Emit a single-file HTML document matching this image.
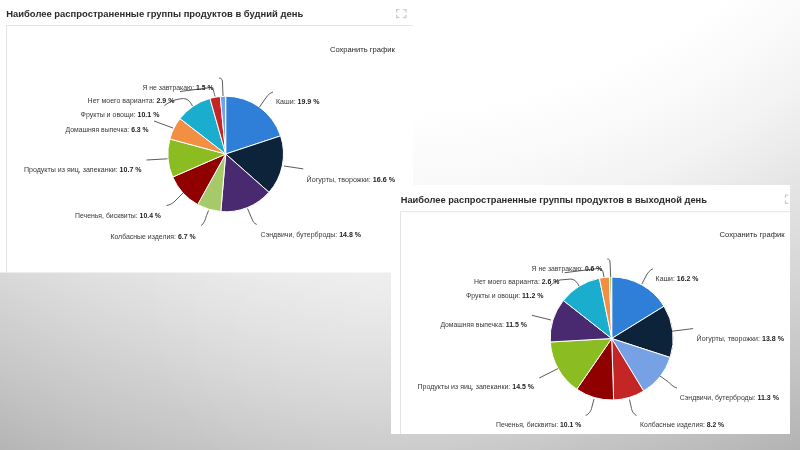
<!DOCTYPE html>
<html><head><meta charset="utf-8"><title>slide</title>
<style>
html,body{margin:0;padding:0;width:800px;height:450px;overflow:hidden;}
body{background:radial-gradient(circle 260px at 395px 275px, rgba(255,255,255,0.22), rgba(255,255,255,0) 100%), radial-gradient(ellipse 950px 1000px at 388px -503px, rgb(255,255,255) 61.4%, rgb(250,250,250) 67.0%, rgb(243,243,243) 72.7%, rgb(233,233,233) 78.4%, rgb(223,223,223) 84.1%, rgb(212,212,212) 89.7%, rgb(200,200,200) 95.4%, rgb(187,187,187) 101.1%, rgb(174,174,174) 106.7%);}
svg{position:absolute;left:0;top:0;font-family:"Liberation Sans",sans-serif;filter:blur(0.35px);}
text{white-space:pre;}
</style></head>
<body>
<svg width="800" height="450" viewBox="0 0 800 450">
<defs><clipPath id="c2"><rect x="391" y="185" width="399" height="249"/></clipPath></defs>
<rect x="0" y="0" width="413" height="272.5" fill="#fff"/>
<path d="M6.5,272.5V25.5H413" fill="none" stroke="#e4e4e4" stroke-width="1"/>
<text x="6.2" y="16.8" font-size="9.4" font-weight="bold" fill="#2a2a2a" textLength="297" lengthAdjust="spacingAndGlyphs">Наиболее распространенные группы продуктов в будний день</text>
<path d="M396.6,12.5V9.7H399.40000000000003 M403.2,9.7H406.0V12.5 M396.6,14.7V17.5H399.40000000000003 M403.2,17.5H406.0V14.7" fill="none" stroke="#cdcdcd" stroke-width="1.3"/>
<text x="329.9" y="51.6" font-size="7.6" fill="#262626" textLength="64.9" lengthAdjust="spacingAndGlyphs">Сохранить график</text>
<path d="M225.70,154.00L225.70,96.20A57.8,57.8 0 0 1 280.58,135.86Z" fill="#2f7ed8" stroke="#fff" stroke-width="1" stroke-linejoin="round"/>
<path d="M225.70,154.00L280.58,135.86A57.8,57.8 0 0 1 268.97,192.32Z" fill="#0d233a" stroke="#fff" stroke-width="1" stroke-linejoin="round"/>
<path d="M225.70,154.00L268.97,192.32A57.8,57.8 0 0 1 220.80,211.59Z" fill="#492970" stroke="#fff" stroke-width="1" stroke-linejoin="round"/>
<path d="M225.70,154.00L220.80,211.59A57.8,57.8 0 0 1 197.67,204.55Z" fill="#a6c96a" stroke="#fff" stroke-width="1" stroke-linejoin="round"/>
<path d="M225.70,154.00L197.67,204.55A57.8,57.8 0 0 1 172.70,177.06Z" fill="#910000" stroke="#fff" stroke-width="1" stroke-linejoin="round"/>
<path d="M225.70,154.00L172.70,177.06A57.8,57.8 0 0 1 169.88,139.00Z" fill="#8bbc21" stroke="#fff" stroke-width="1" stroke-linejoin="round"/>
<path d="M225.70,154.00L169.88,139.00A57.8,57.8 0 0 1 180.00,118.62Z" fill="#f28f43" stroke="#fff" stroke-width="1" stroke-linejoin="round"/>
<path d="M225.70,154.00L180.00,118.62A57.8,57.8 0 0 1 209.91,98.40Z" fill="#1aadce" stroke="#fff" stroke-width="1" stroke-linejoin="round"/>
<path d="M225.70,154.00L209.91,98.40A57.8,57.8 0 0 1 220.26,96.46Z" fill="#c42525" stroke="#fff" stroke-width="1" stroke-linejoin="round"/>
<path d="M225.70,154.00L220.26,96.46A57.8,57.8 0 0 1 225.70,96.20Z" fill="#77a1e5" stroke="#fff" stroke-width="1" stroke-linejoin="round"/>
<g fill="none" stroke="#5c5c5c" stroke-width="1"><path d="M219,78 C222,78 222.5,80 222.5,83 L223,96"/><path d="M180,91.5 L211,87.5 C213,88 213.5,90 215,96.5"/><path d="M164.5,105.5 C168,103 171,101 175,100 C179,99 183,98 186,99 C189,100 191,103 192.5,106"/><path d="M154,121 L173,128"/><path d="M146.5,160 L167.5,158.8"/><path d="M166.5,205.5 C170,205 172,203.5 174,202 L183,193"/><path d="M201,225.6 C204,224 205.5,219 206.5,215.6 L208.5,210.5"/><path d="M273,92 C270,93 268,95 266.5,97 L259.5,107"/><path d="M303.3,168.9 L284,166"/><path d="M256.7,224.4 C254,223.5 253,221.5 252,219 L247.5,208.5"/></g>
<text x="142.40" y="90.00" font-size="6.7" fill="#383838" textLength="53.63" lengthAdjust="spacingAndGlyphs">Я не завтракаю: </text><text x="196.03" y="90.00" font-size="6.7" font-weight="bold" fill="#1c1c1c" textLength="17.57" lengthAdjust="spacingAndGlyphs">1.5 %</text><text x="87.60" y="103.40" font-size="6.7" fill="#383838" textLength="68.86" lengthAdjust="spacingAndGlyphs">Нет моего варианта: </text><text x="156.46" y="103.40" font-size="6.7" font-weight="bold" fill="#1c1c1c" textLength="17.94" lengthAdjust="spacingAndGlyphs">2.9 %</text><text x="80.60" y="117.40" font-size="6.7" fill="#383838" textLength="56.95" lengthAdjust="spacingAndGlyphs">Фрукты и овощи: </text><text x="137.55" y="117.40" font-size="6.7" font-weight="bold" fill="#1c1c1c" textLength="21.85" lengthAdjust="spacingAndGlyphs">10.1 %</text><text x="65.60" y="132.00" font-size="6.7" fill="#383838" textLength="65.56" lengthAdjust="spacingAndGlyphs">Домашняя выпечка: </text><text x="131.16" y="132.00" font-size="6.7" font-weight="bold" fill="#1c1c1c" textLength="17.44" lengthAdjust="spacingAndGlyphs">6.3 %</text><text x="23.90" y="172.20" font-size="6.7" fill="#383838" textLength="95.71" lengthAdjust="spacingAndGlyphs">Продукты из яиц, запеканки: </text><text x="119.61" y="172.20" font-size="6.7" font-weight="bold" fill="#1c1c1c" textLength="21.99" lengthAdjust="spacingAndGlyphs">10.7 %</text><text x="75.00" y="217.60" font-size="6.7" fill="#383838" textLength="64.57" lengthAdjust="spacingAndGlyphs">Печенья, бисквиты: </text><text x="139.57" y="217.60" font-size="6.7" font-weight="bold" fill="#1c1c1c" textLength="21.43" lengthAdjust="spacingAndGlyphs">10.4 %</text><text x="110.40" y="239.00" font-size="6.7" fill="#383838" textLength="67.50" lengthAdjust="spacingAndGlyphs">Колбасные изделия: </text><text x="177.90" y="239.00" font-size="6.7" font-weight="bold" fill="#1c1c1c" textLength="17.70" lengthAdjust="spacingAndGlyphs">6.7 %</text><text x="276.00" y="103.80" font-size="6.7" fill="#383838" textLength="21.55" lengthAdjust="spacingAndGlyphs">Каши: </text><text x="297.55" y="103.80" font-size="6.7" font-weight="bold" fill="#1c1c1c" textLength="21.95" lengthAdjust="spacingAndGlyphs">19.9 %</text><text x="306.60" y="181.60" font-size="6.7" fill="#383838" textLength="66.14" lengthAdjust="spacingAndGlyphs">Йогурты, творожки: </text><text x="372.74" y="181.60" font-size="6.7" font-weight="bold" fill="#1c1c1c" textLength="22.26" lengthAdjust="spacingAndGlyphs">16.6 %</text><text x="260.60" y="237.40" font-size="6.7" fill="#383838" textLength="78.60" lengthAdjust="spacingAndGlyphs">Сэндвичи, бутерброды: </text><text x="339.20" y="237.40" font-size="6.7" font-weight="bold" fill="#1c1c1c" textLength="21.80" lengthAdjust="spacingAndGlyphs">14.8 %</text>
<rect x="391" y="185" width="399" height="249" fill="#fff"/>
<path d="M400.5,434V211.7H790" fill="none" stroke="#e4e4e4" stroke-width="1"/>
<text x="400.7" y="203.4" font-size="9.3" font-weight="bold" fill="#2a2a2a" textLength="306.2" lengthAdjust="spacingAndGlyphs">Наиболее распространенные группы продуктов в выходной день</text>
<g clip-path="url(#c2)"><path d="M785.5,198.0V195.2H788.3 M792.3000000000001,195.2H795.1V198.0 M785.5,200.59999999999997V203.39999999999998H788.3 M792.3000000000001,203.39999999999998H795.1V200.59999999999997" fill="none" stroke="#cdcdcd" stroke-width="1.3"/></g>
<rect x="790" y="185" width="10" height="30" fill="none"/>
<text x="719.5" y="237.2" font-size="7.6" fill="#262626" textLength="65" lengthAdjust="spacingAndGlyphs">Сохранить график</text>
<path d="M611.70,338.50L611.70,277.00A61.5,61.5 0 0 1 664.04,306.20Z" fill="#2f7ed8" stroke="#fff" stroke-width="1" stroke-linejoin="round"/>
<path d="M611.70,338.50L664.04,306.20A61.5,61.5 0 0 1 670.19,357.50Z" fill="#0d233a" stroke="#fff" stroke-width="1" stroke-linejoin="round"/>
<path d="M611.70,338.50L670.19,357.50A61.5,61.5 0 0 1 643.67,391.04Z" fill="#77a1e5" stroke="#fff" stroke-width="1" stroke-linejoin="round"/>
<path d="M611.70,338.50L643.67,391.04A61.5,61.5 0 0 1 613.63,399.97Z" fill="#c42525" stroke="#fff" stroke-width="1" stroke-linejoin="round"/>
<path d="M611.70,338.50L613.63,399.97A61.5,61.5 0 0 1 576.81,389.15Z" fill="#910000" stroke="#fff" stroke-width="1" stroke-linejoin="round"/>
<path d="M611.70,338.50L576.81,389.15A61.5,61.5 0 0 1 550.30,341.98Z" fill="#8bbc21" stroke="#fff" stroke-width="1" stroke-linejoin="round"/>
<path d="M611.70,338.50L550.30,341.98A61.5,61.5 0 0 1 563.34,300.50Z" fill="#492970" stroke="#fff" stroke-width="1" stroke-linejoin="round"/>
<path d="M611.70,338.50L563.34,300.50A61.5,61.5 0 0 1 599.42,278.24Z" fill="#1aadce" stroke="#fff" stroke-width="1" stroke-linejoin="round"/>
<path d="M611.70,338.50L599.42,278.24A61.5,61.5 0 0 1 609.38,277.04Z" fill="#f28f43" stroke="#fff" stroke-width="1" stroke-linejoin="round"/>
<path d="M611.70,338.50L609.38,277.04A61.5,61.5 0 0 1 611.70,277.00Z" fill="#a6c96a" stroke="#fff" stroke-width="1" stroke-linejoin="round"/>
<g fill="none" stroke="#5c5c5c" stroke-width="1"><path d="M607.3,259 C609.5,259 610,260.5 610,262 L610.7,277"/><path d="M564.7,272.7 L598,268.5 C601,268.5 602.5,270 603,272 L604,277"/><path d="M550,286 C553,283 556,280.5 560,280 L571,279 C575,279.5 577,282 579,286"/><path d="M532,315.3 L551,320"/><path d="M539.2,378 L558,368.6"/><path d="M585.6,415.6 C589,414 591,411 591.5,408.5 L594,399"/><path d="M636.5,415.6 C633.5,414 632,411 631.5,408.5 L629.5,399.5"/><path d="M653,268.8 C650,270 648,272.5 646.5,275 L641.9,284"/><path d="M693.1,328.6 L672,331.2"/><path d="M677,388 C673,387 670.5,384 668.5,382 L660,376"/></g>
<text x="531.60" y="271.40" font-size="6.7" fill="#383838" textLength="53.33" lengthAdjust="spacingAndGlyphs">Я не завтракаю: </text><text x="584.93" y="271.40" font-size="6.7" font-weight="bold" fill="#1c1c1c" textLength="17.47" lengthAdjust="spacingAndGlyphs">0.6 %</text><text x="474.00" y="284.40" font-size="6.7" fill="#383838" textLength="67.75" lengthAdjust="spacingAndGlyphs">Нет моего варианта: </text><text x="541.75" y="284.40" font-size="6.7" font-weight="bold" fill="#1c1c1c" textLength="17.65" lengthAdjust="spacingAndGlyphs">2.6 %</text><text x="466.00" y="298.40" font-size="6.7" fill="#383838" textLength="56.09" lengthAdjust="spacingAndGlyphs">Фрукты и овощи: </text><text x="522.09" y="298.40" font-size="6.7" font-weight="bold" fill="#1c1c1c" textLength="21.51" lengthAdjust="spacingAndGlyphs">11.2 %</text><text x="440.40" y="327.00" font-size="6.7" fill="#383838" textLength="65.41" lengthAdjust="spacingAndGlyphs">Домашняя выпечка: </text><text x="505.81" y="327.00" font-size="6.7" font-weight="bold" fill="#1c1c1c" textLength="21.19" lengthAdjust="spacingAndGlyphs">11.5 %</text><text x="417.60" y="389.40" font-size="6.7" fill="#383838" textLength="94.66" lengthAdjust="spacingAndGlyphs">Продукты из яиц, запеканки: </text><text x="512.26" y="389.40" font-size="6.7" font-weight="bold" fill="#1c1c1c" textLength="21.74" lengthAdjust="spacingAndGlyphs">14.5 %</text><text x="496.00" y="427.00" font-size="6.7" fill="#383838" textLength="64.05" lengthAdjust="spacingAndGlyphs">Печенья, бисквиты: </text><text x="560.05" y="427.00" font-size="6.7" font-weight="bold" fill="#1c1c1c" textLength="21.25" lengthAdjust="spacingAndGlyphs">10.1 %</text><text x="640.00" y="427.00" font-size="6.7" fill="#383838" textLength="66.71" lengthAdjust="spacingAndGlyphs">Колбасные изделия: </text><text x="706.71" y="427.00" font-size="6.7" font-weight="bold" fill="#1c1c1c" textLength="17.49" lengthAdjust="spacingAndGlyphs">8.2 %</text><text x="655.60" y="281.00" font-size="6.7" fill="#383838" textLength="21.20" lengthAdjust="spacingAndGlyphs">Каши: </text><text x="676.80" y="281.00" font-size="6.7" font-weight="bold" fill="#1c1c1c" textLength="21.60" lengthAdjust="spacingAndGlyphs">16.2 %</text><text x="696.60" y="341.40" font-size="6.7" fill="#383838" textLength="65.40" lengthAdjust="spacingAndGlyphs">Йогурты, творожки: </text><text x="762.00" y="341.40" font-size="6.7" font-weight="bold" fill="#1c1c1c" textLength="22.00" lengthAdjust="spacingAndGlyphs">13.8 %</text><text x="679.80" y="400.00" font-size="6.7" fill="#383838" textLength="77.66" lengthAdjust="spacingAndGlyphs">Сэндвичи, бутерброды: </text><text x="757.46" y="400.00" font-size="6.7" font-weight="bold" fill="#1c1c1c" textLength="21.54" lengthAdjust="spacingAndGlyphs">11.3 %</text>
</svg>
</body></html>
